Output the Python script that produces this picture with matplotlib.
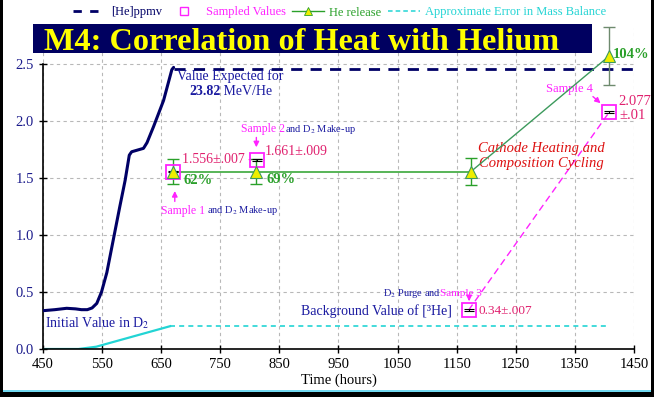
import matplotlib
matplotlib.use('Agg')
import matplotlib.pyplot as plt
from matplotlib.lines import Line2D
from matplotlib.patches import Rectangle

plt.rcParams['font.family'] = ['Liberation Serif', 'DejaVu Serif']
plt.rcParams['mathtext.fontset'] = 'stix'

# ---------------- data ----------------
he_time = [450, 470, 490, 505, 515, 525, 533, 541, 549, 558, 569, 580, 589, 596,
           600, 610, 620, 626, 637, 654, 668, 671]
he_vals = [0.336, 0.345, 0.357, 0.352, 0.345, 0.345, 0.36, 0.40, 0.50, 0.67, 0.96,
           1.25, 1.48, 1.70, 1.73, 1.745, 1.76, 1.81, 1.95, 2.18, 2.45, 2.47]
expected_time = [671, 1450]
expected_vals = [2.46, 2.46]

err_time = [450, 510, 540, 665]
err_vals = [0.0, 0.0, 0.02, 0.2]
err_dash_time = [665, 1404]
err_dash_vals = [0.2, 0.2]

sample_time = [670, 812, 1170, 1408]
sample_vals = [1.556, 1.661, 0.34, 2.077]
sample_err = [0.007, 0.009, 0.007, 0.01]

release_time = [670, 810, 1174, 1408]
release_vals = [1.556, 1.556, 1.556, 2.57]
release_err = [0.11, 0.11, 0.12, 0.255]

x_ticks = [450, 550, 650, 750, 850, 950, 1050, 1150, 1250, 1350, 1450]
y_ticks = [0.0, 0.5, 1.0, 1.5, 2.0, 2.5]

NAVY = '#000066'
CYAN = '#22d4d4'
MAG = '#ff22ff'
PINK = '#e0206e'
GREEN = '#2aa02a'
LGREEN = '#3c9a5c'
SMALLNAVY = '#1a1aa0'

# ---------------- figure ----------------
W, H = 654, 397
fig = plt.figure(figsize=(W / 100, H / 100), dpi=100)
fig.patch.set_facecolor('white')
ax = fig.add_axes([43 / W, 1 - 349 / H, (634 - 43) / W, (349 - 27.5) / H])
ax.set_xlim(450, 1450)
ax.set_ylim(0, 2.82)

ax.set_xticks(x_ticks)
ax.set_yticks(y_ticks)
ax.set_yticklabels([f'{v:.1f}' for v in y_ticks])
ax.grid(True, color='#b8b8b8', linestyle=(0, (3, 3)), linewidth=0.8)
ax.set_axisbelow(True)
for s in ['top', 'right']:
    ax.spines[s].set_visible(False)
ax.spines['left'].set_bounds(0, 2.5)
ax.spines['left'].set_linewidth(1.2)
ax.spines['bottom'].set_linewidth(1.2)
ax.tick_params(direction='inout', length=6, width=1, labelsize=10.5)
for lab in ax.get_yticklabels():
    lab.set_color('#1c1c8c')
ax.set_xlabel('Time (hours)', fontsize=10.5, labelpad=2)

# approximate error in mass balance
ax.plot(err_time, err_vals, color=CYAN, lw=1.6, zorder=2)
ax.plot(err_dash_time, err_dash_vals, color=CYAN, lw=1.2, ls=(0, (3, 2.5)), zorder=2)

# [He] ppmv
ax.plot(he_time, he_vals, color=NAVY, lw=2.2, zorder=3, solid_capstyle='round')
ax.plot(expected_time, expected_vals, color=NAVY, lw=2.0, ls=(0, (4, 3)), zorder=3,
        clip_on=False)

# sample 3 -> sample 4 dashed
ax.plot([sample_time[2], sample_time[3]], [sample_vals[2], sample_vals[3]],
        color=MAG, lw=1.0, ls=(0, (5, 3)), zorder=3)

# He release line
ax.plot(release_time[:3], release_vals[:3], color=GREEN, lw=1.1, zorder=4)
ax.plot(release_time[2:], release_vals[2:], color=LGREEN, lw=1.0, zorder=4)

# He release error bars
for i in range(4):
    c = GREEN if i < 3 else '#6e8a6e'
    ax.errorbar([release_time[i]], [release_vals[i]], yerr=[release_err[i]], fmt='none',
                ecolor=c, elinewidth=1.0, capsize=4, capthick=1.0, zorder=5, clip_on=False)

# sampled values
for i in range(4):
    ax.errorbar([sample_time[i]], [sample_vals[i]], yerr=[sample_err[i]], fmt='none',
                ecolor='black', elinewidth=0.8, capsize=3.5, capthick=0.8,
                zorder=6, clip_on=False)
ax.plot(sample_time, sample_vals, ls='none', marker='s', markersize=10,
        markerfacecolor='none', markeredgecolor=MAG, markeredgewidth=1.3,
        zorder=6, clip_on=False)

# triangles
ax.plot(release_time, release_vals, ls='none', marker='^', markersize=9,
        markerfacecolor='#eeee00', markeredgecolor=LGREEN, markeredgewidth=0.8,
        zorder=7, clip_on=False)

# ---------------- annotations ----------------
tk = dict(clip_on=False)
ax.text(685, 1.658, '1.556±.007 -', color=PINK, fontsize=10, va='center', **tk)
ax.text(826, 1.73, '1.661±.009', color=PINK, fontsize=10, va='center', **tk)
ax.text(1187, 0.336, '0.34±.007', color=PINK, fontsize=9.5, va='center', **tk)
ax.text(1423, 2.17, '2.077', color=PINK, fontsize=10.5, va='center', **tk)
ax.text(1426, 2.047, '±.01', color=PINK, fontsize=10.5, va='center', **tk)

ax.text(687, 1.482, '62%', color=GREEN, fontsize=10.5, fontweight='bold', va='center', **tk)
ax.text(828, 1.49, '69%', color=GREEN, fontsize=10.5, fontweight='bold', va='center', **tk)
ax.text(1414, 2.58, '104%', color=GREEN, fontsize=10.5, fontweight='bold', va='center', **tk)

ax.text(649, 1.213, 'Sample 1', color=MAG, fontsize=8.5, va='center', **tk)
ax.text(728, 1.213, 'and D$_2$ Make-up', color=SMALLNAVY, fontsize=7.5, va='center', **tk)
ax.text(785, 1.927, 'Sample 2', color=MAG, fontsize=8.5, va='center', **tk)
ax.text(860, 1.927, 'and D$_2$ Make-up', color=SMALLNAVY, fontsize=7.5, va='center', **tk)
ax.text(1026, 0.49, 'D$_2$ Purge and', color=SMALLNAVY, fontsize=7.5, va='center', **tk)
ax.text(1122, 0.49, 'Sample 3', color=MAG, fontsize=8, va='center', **tk)
ax.text(1301, 2.28, 'Sample 4', color=MAG, fontsize=9, va='center', **tk)

arrow = dict(arrowstyle='-|>', color=MAG, lw=1.0, mutation_scale=8)
ax.annotate('', xy=(673, 1.41), xytext=(673, 1.27), arrowprops=arrow)
ax.annotate('', xy=(811, 1.745), xytext=(811, 1.88), arrowprops=arrow)
ax.annotate('', xy=(1171, 0.395), xytext=(1171, 0.46),
            arrowprops=dict(arrowstyle='-|>', color=MAG, lw=1.0, mutation_scale=8))
ax.annotate('', xy=(1397, 2.14), xytext=(1377, 2.23), arrowprops=arrow)

ax.text(887, 0.336, 'Background Value of [³He]', color=SMALLNAVY, fontsize=10, va='center', **tk)
ax.text(453, 0.23, 'Initial Value in D$_2$', color=SMALLNAVY, fontsize=10, va='center', **tk)

ax.text(677, 2.39, 'Value Expected for', color=SMALLNAVY, fontsize=10, va='center', **tk)
t1 = ax.text(697, 2.26, '23.82', color=SMALLNAVY, fontsize=10, fontweight='bold',
             va='center', **tk)
ax.annotate(' MeV/He', xy=(1, 0), xycoords=t1, va='bottom', ha='left',
            color=SMALLNAVY, fontsize=10)

ax.text(1294, 1.76, 'Cathode Heating and', color='#dd1111', fontsize=10.5,
        style='italic', ha='center', va='center', **tk)
ax.text(1294, 1.63, 'Composition Cycling', color='#dd1111', fontsize=10.5,
        style='italic', ha='center', va='center', **tk)

# ---------------- title box ----------------
fig.add_artist(Rectangle((33 / W, 1 - 53 / H), (592 - 33) / W, 29 / H,
                         transform=fig.transFigure, facecolor='#000060',
                         edgecolor='none', zorder=10))
fig.text(44 / W, 1 - 50 / H, 'M4: Correlation of Heat with Helium', color='#ffff00',
         fontsize=23.2, fontweight='bold', va='baseline', ha='left', zorder=11)

# ---------------- legend ----------------
handles = [
    Line2D([], [], color=NAVY, lw=2, ls=(0, (3, 3))),
    Line2D([], [], ls='none', marker='s', markersize=6, markerfacecolor='none',
           markeredgecolor=MAG, markeredgewidth=1),
    Line2D([], [], color=GREEN, lw=1, marker='^', markersize=6,
           markerfacecolor='#eeee00', markeredgecolor=GREEN, markeredgewidth=0.6),
    Line2D([], [], color=CYAN, lw=1.1, ls=(0, (3, 2))),
]
labels = ['[He]ppmv', 'Sampled Values', 'He release', 'Approximate Error in Mass Balance']
leg = fig.legend(handles, labels, loc='center', bbox_to_anchor=(340 / W, 1 - 12.5 / H),
                 ncol=4, frameon=False, fontsize=9, handlelength=2.6,
                 handletextpad=0.4, columnspacing=0.5, borderpad=0)
for txt, c in zip(leg.get_texts(), [NAVY, MAG, GREEN, CYAN]):
    txt.set_color(c)

# ---------------- frame ----------------
fig.add_artist(Rectangle((0, 0), 3 / W, 1, transform=fig.transFigure,
                         facecolor='black', edgecolor='none', zorder=20))
fig.add_artist(Rectangle((651 / W, 0), 3 / W, 1, transform=fig.transFigure,
                         facecolor='black', edgecolor='none', zorder=20))
fig.add_artist(Rectangle((0, 0), 1, 5 / H, transform=fig.transFigure,
                         facecolor='black', edgecolor='none', zorder=20))
fig.add_artist(Rectangle((3 / W, 5 / H), 648 / W, 1.6 / H, transform=fig.transFigure,
                         facecolor='#70d8f0', edgecolor='none', zorder=20))

fig.savefig('out.png', dpi=100)
